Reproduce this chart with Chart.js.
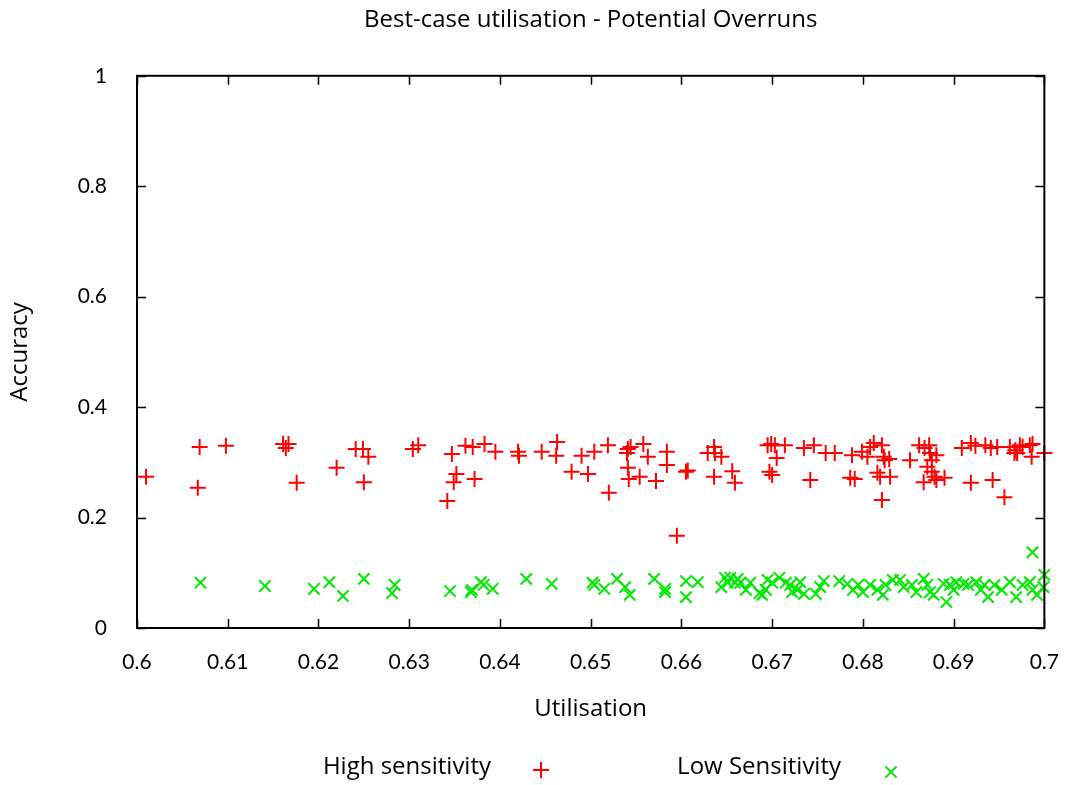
<!DOCTYPE html>
<html>
<head>
<meta charset="utf-8">
<script src="https://cdn.jsdelivr.net/npm/chart.js@4/dist/chart.umd.min.js"></script>
<style>
  body { margin: 0; background: #fff; }
  #grafico { display: block; }
</style>
</head>
<body>
<canvas id="grafico" width="1073" height="785"></canvas>
<script>
const tituloGrafico = 'Best-case utilisation - Potential Overruns';
const tituloX = 'Utilisation';
const tituloY = 'Accuracy';
const nombresSeries = ['High sensitivity', 'Low Sensitivity'];

const ticksX = [0.6, 0.61, 0.62, 0.63, 0.64, 0.65, 0.66, 0.67, 0.68, 0.69, 0.7];
const ticksY = [0, 0.2, 0.4, 0.6, 0.8, 1];

// High sensitivity (+)
const altaX = [0.6010, 0.6069, 0.6067, 0.6098, 0.6161, 0.6167, 0.6164, 0.6176, 0.6220, 0.6241,
  0.6249, 0.6255, 0.6250, 0.6304, 0.6310, 0.6347, 0.6342, 0.6352, 0.6349, 0.6362,
  0.6370, 0.6372, 0.6383, 0.6395, 0.6420, 0.6421, 0.6446, 0.6463, 0.6462, 0.6479,
  0.6490, 0.6497, 0.6504, 0.6519, 0.6520, 0.6541, 0.6544, 0.6540, 0.6558, 0.6563,
  0.6541, 0.6542, 0.6554, 0.6572, 0.6584, 0.6584, 0.6605, 0.6607, 0.6595, 0.6636,
  0.6637, 0.6629, 0.6644, 0.6636, 0.6656, 0.6659, 0.6695, 0.6699, 0.6703, 0.6714,
  0.6705, 0.6697, 0.6700, 0.6735, 0.6746, 0.6742, 0.6759, 0.6769, 0.6788, 0.6786,
  0.6791, 0.6799, 0.6808, 0.6812, 0.6821, 0.6805, 0.6823, 0.6824, 0.6829, 0.6816,
  0.6819, 0.6830, 0.6821, 0.6852, 0.6862, 0.6868, 0.6873, 0.6874, 0.6881, 0.6876,
  0.6871, 0.6876, 0.6879, 0.6867, 0.6881, 0.6890, 0.6909, 0.6919, 0.6924, 0.6919,
  0.6935, 0.6941, 0.6948, 0.6943, 0.6956, 0.6962, 0.6968, 0.6973, 0.6976, 0.6984,
  0.6987, 0.6967, 0.6970, 0.6986, 0.7000];
const altaY = [0.274, 0.328, 0.254, 0.330, 0.333, 0.333, 0.326, 0.263, 0.290, 0.324,
  0.324, 0.310, 0.264, 0.324, 0.331, 0.315, 0.230, 0.279, 0.264, 0.330,
  0.328, 0.270, 0.333, 0.319, 0.319, 0.312, 0.319, 0.337, 0.312, 0.283,
  0.312, 0.279, 0.319, 0.331, 0.245, 0.324, 0.328, 0.317, 0.333, 0.310,
  0.290, 0.270, 0.274, 0.266, 0.319, 0.295, 0.283, 0.285, 0.167, 0.328,
  0.317, 0.317, 0.310, 0.274, 0.284, 0.263, 0.331, 0.333, 0.331, 0.331,
  0.308, 0.283, 0.277, 0.326, 0.331, 0.268, 0.317, 0.317, 0.313, 0.272,
  0.270, 0.319, 0.328, 0.335, 0.331, 0.310, 0.310, 0.304, 0.306, 0.281,
  0.274, 0.274, 0.232, 0.304, 0.331, 0.326, 0.331, 0.317, 0.313, 0.304,
  0.292, 0.283, 0.274, 0.264, 0.268, 0.272, 0.326, 0.335, 0.330, 0.263,
  0.331, 0.326, 0.328, 0.268, 0.237, 0.328, 0.322, 0.331, 0.328, 0.331,
  0.333, 0.317, 0.317, 0.310, 0.317];

// Low Sensitivity (x)
const bajaX = [0.6070, 0.6141, 0.6195, 0.6212, 0.6227, 0.6250, 0.6284, 0.6281, 0.6345, 0.6368,
  0.6369, 0.6379, 0.6382, 0.6392, 0.6429, 0.6457, 0.6502, 0.6504, 0.6515, 0.6529,
  0.6538, 0.6543, 0.6570, 0.6582, 0.6582, 0.6605, 0.6605, 0.6618, 0.6644, 0.6648,
  0.6651, 0.6654, 0.6659, 0.6662, 0.6665, 0.6671, 0.6676, 0.6686, 0.6689, 0.6693,
  0.6695, 0.6700, 0.6708, 0.6715, 0.6722, 0.6720, 0.6731, 0.6728, 0.6735, 0.6748,
  0.6753, 0.6757, 0.6774, 0.6783, 0.6789, 0.6795, 0.6800, 0.6808, 0.6816, 0.6822,
  0.6825, 0.6833, 0.6841, 0.6845, 0.6854, 0.6859, 0.6867, 0.6871, 0.6874, 0.6878,
  0.6889, 0.6892, 0.6896, 0.6900, 0.6903, 0.6911, 0.6916, 0.6925, 0.6930, 0.6934,
  0.6938, 0.6945, 0.6953, 0.6962, 0.6969, 0.6976, 0.6984, 0.6987, 0.6992, 0.6987,
  0.7000, 0.6999];
const bajaY = [0.082, 0.076, 0.071, 0.083, 0.058, 0.089, 0.078, 0.063, 0.067, 0.065,
  0.069, 0.083, 0.078, 0.071, 0.089, 0.080, 0.082, 0.078, 0.071, 0.089,
  0.074, 0.060, 0.089, 0.071, 0.065, 0.085, 0.056, 0.083, 0.074, 0.091,
  0.082, 0.091, 0.082, 0.089, 0.082, 0.069, 0.082, 0.063, 0.060, 0.069,
  0.087, 0.082, 0.091, 0.082, 0.065, 0.078, 0.083, 0.069, 0.062, 0.062,
  0.074, 0.085, 0.085, 0.080, 0.069, 0.078, 0.065, 0.078, 0.069, 0.060,
  0.078, 0.087, 0.087, 0.074, 0.078, 0.065, 0.089, 0.078, 0.065, 0.060,
  0.080, 0.047, 0.078, 0.069, 0.083, 0.080, 0.078, 0.083, 0.069, 0.078,
  0.056, 0.078, 0.069, 0.083, 0.056, 0.078, 0.083, 0.069, 0.060, 0.137,
  0.096, 0.074];

const colorAlta = '#ff0000';
const colorBaja = '#00e800';
const fuenteTexto = '"Open Sans", Lato, sans-serif';
const fuenteTicks = 'Lato, "Open Sans", sans-serif';

const puntosAlta = altaX.map((x, i) => ({ x: x, y: altaY[i] }));
const puntosBaja = bajaX.map((x, i) => ({ x: x, y: bajaY[i] }));

// marco con ticks hacia adentro, como en gnuplot
const marcoPlugin = {
  id: 'marco',
  afterDraw(chart) {
    const ctx = chart.ctx;
    const a = chart.chartArea;
    const sx = chart.scales.x;
    const sy = chart.scales.y;
    ctx.save();
    ctx.strokeStyle = '#000';
    ctx.lineWidth = 2;
    ctx.strokeRect(a.left, a.top, a.right - a.left, a.bottom - a.top);
    ctx.lineWidth = 1.5;
    ctx.beginPath();
    ticksX.forEach(v => {
      const px = Math.round(sx.getPixelForValue(v)) + 0.5;
      ctx.moveTo(px, a.bottom); ctx.lineTo(px, a.bottom - 9);
      ctx.moveTo(px, a.top); ctx.lineTo(px, a.top + 9);
    });
    ticksY.forEach(v => {
      const py = Math.round(sy.getPixelForValue(v)) + 0.5;
      ctx.moveTo(a.left, py); ctx.lineTo(a.left + 9, py);
      ctx.moveTo(a.right, py); ctx.lineTo(a.right - 9, py);
    });
    ctx.stroke();

    // leyenda abajo: texto y luego marcador
    ctx.font = '24px ' + fuenteTexto;
    ctx.fillStyle = '#000';
    ctx.textBaseline = 'middle';
    ctx.textAlign = 'right';
    const yLeyenda = 767;
    ctx.fillText(nombresSeries[0], 491, yLeyenda);
    ctx.fillText(nombresSeries[1], 841, yLeyenda);
    ctx.lineWidth = 2;
    ctx.strokeStyle = colorAlta;
    Chart.helpers.drawPoint(ctx, { pointStyle: 'cross', radius: 8, rotation: 0, borderWidth: 2 }, 541, yLeyenda + 3);
    ctx.strokeStyle = colorBaja;
    Chart.helpers.drawPoint(ctx, { pointStyle: 'crossRot', radius: 8, rotation: 0, borderWidth: 2 }, 891, yLeyenda + 5);
    ctx.restore();
  }
};

new Chart(document.getElementById('grafico').getContext('2d'), {
  type: 'scatter',
  data: {
    datasets: [{
      label: nombresSeries[0],
      data: puntosAlta,
      pointStyle: 'cross',
      radius: 8,
      borderColor: colorAlta,
      backgroundColor: colorAlta,
      borderWidth: 2,
      clip: false
    }, {
      label: nombresSeries[1],
      data: puntosBaja,
      pointStyle: 'crossRot',
      radius: 8,
      borderColor: colorBaja,
      backgroundColor: colorBaja,
      borderWidth: 2,
      clip: false
    }]
  },
  options: {
    responsive: false,
    animation: false,
    layout: { padding: { left: 0, right: 25, top: 0, bottom: 57 } },
    plugins: {
      legend: { display: false },
      tooltip: { enabled: false },
      title: {
        display: true,
        fullSize: false,
        text: tituloGrafico,
        color: '#000',
        font: { family: fuenteTexto, size: 24, weight: 'normal' },
        padding: { top: 6, bottom: 41 }
      }
    },
    scales: {
      x: {
        type: 'linear',
        min: 0.6,
        max: 0.7,
        afterBuildTicks: s => { s.ticks = ticksX.map(v => ({ value: v })); },
        afterFit: s => { s.height = 100; },
        grid: { display: false },
        border: { display: false },
        ticks: {
          color: '#000',
          padding: 14,
          maxRotation: 0,
          autoSkip: false,
          font: { family: fuenteTicks, size: 21 },
          callback: v => String(v)
        },
        title: {
          display: true,
          text: tituloX,
          color: '#000',
          font: { family: fuenteTexto, size: 24 },
          padding: { top: 12 }
        }
      },
      y: {
        type: 'linear',
        min: 0,
        max: 1,
        afterBuildTicks: s => { s.ticks = ticksY.map(v => ({ value: v })); },
        afterFit: s => { s.width = 137; },
        grid: { display: false },
        border: { display: false },
        ticks: {
          color: '#000',
          padding: 22,
          autoSkip: false,
          font: { family: fuenteTicks, size: 21 },
          callback: v => String(v)
        },
        title: {
          display: true,
          text: tituloY,
          color: '#000',
          font: { family: fuenteTexto, size: 24 },
          padding: { top: 6, bottom: 0 }
        }
      }
    }
  },
  plugins: [marcoPlugin]
});
</script>
</body>
</html>
